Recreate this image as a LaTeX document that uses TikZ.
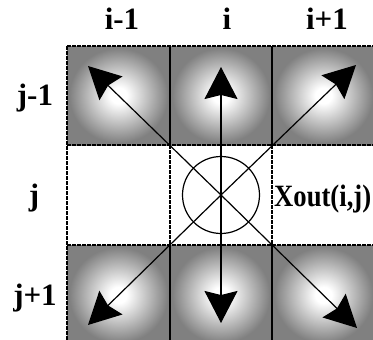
\documentclass[tikz,border=0pt]{standalone}
\usepackage{fontspec}
\usepackage{graphicx}
\setmainfont{Liberation Serif}
\usetikzlibrary{arrows.meta}
\pgfdeclareradialshading{cellglow}{\pgfpoint{0bp}{0bp}}{color(0bp)=(white); color(4bp)=(white); color(24bp)=(black!50); color(50bp)=(black!50)}
\tikzset{
  cellshade/.style={shading=cellglow},
  dashline/.style={line width=2.3pt, dash pattern=on 3.5pt off 1.5pt},
  solidline/.style={line width=2pt},
  ray/.style={line width=1.2pt, -{Stealth[length=32pt,width=33pt,inset=4pt]}},
  lbl/.style={font=\bfseries\fontsize{31}{31}\selectfont, anchor=base, inner sep=0pt},
}
\begin{document}
\begin{tikzpicture}[x=1pt,y=-1pt]
\useasboundingbox (0,0) rectangle (373,340);
\begin{scope}
\clip (0,0) rectangle (373,340);
% shaded cells
\foreach \xa/\xb in {67/170,170/272,272/375}{
  \foreach \ya/\yb in {46/145,245/345}{
    \shade[cellshade] (\xa,\ya) rectangle (\xb,\yb);
  }
}
% grid lines
\draw[dashline] (67,46) -- (375,46);
\draw[dashline] (67,145) -- (375,145);
\draw[dashline] (67,245) -- (375,245);
\draw[dashline] (67,46) -- (67,345);
\draw[dashline] (170,145) -- (170,245);
\draw[dashline] (272,145) -- (272,245);
\draw[solidline] (170,46) -- (170,145);
\draw[solidline] (272,46) -- (272,145);
\draw[solidline] (170,245) -- (170,345);
\draw[solidline] (272,245) -- (272,345);
\end{scope}
% centre and tips
\coordinate (c) at (221,195);
\coordinate (tl) at (88,66);
\coordinate (t) at (221,67);
\coordinate (tr) at (356,65);
\coordinate (bl) at (88,325);
\coordinate (b) at (221,323);
\coordinate (br) at (357,328);
\node[draw, circle, line width=1.2pt, minimum size=77pt, inner sep=0pt] (circ) at (c) {};
\foreach \p in {tl,t,tr,bl,b,br}{
  \draw[ray] (c) -- (\p);
}
% labels
\node[lbl] (li1) at (122,30) {i-1};
\node[lbl] (li) at (227,30) {i};
\node[lbl] (li2) at (327,30) {i+1};
\node[lbl] (lj1) at (35,105.5) {j-1};
\node[lbl] (lj) at (34,205.5) {j};
\node[lbl] (lj2) at (35,305.5) {j+1};
\node[font=\bfseries\fontsize{31}{31}\selectfont, anchor=base west, inner sep=0pt] (xout) at (274,206) {\scalebox{0.86}[1]{Xout(i,j)}};
\end{tikzpicture}
\end{document}
